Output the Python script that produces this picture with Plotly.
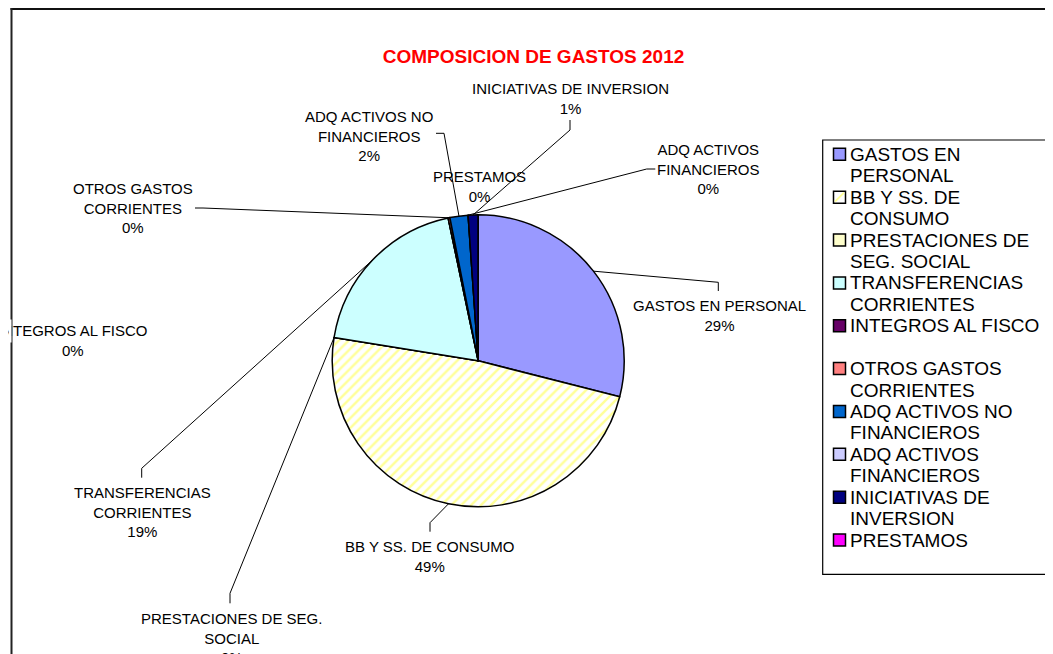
import math
import plotly.graph_objects as go

# ---------------- data ----------------
categories = [
    "GASTOS EN PERSONAL", "BB Y SS. DE CONSUMO", "PRESTACIONES DE SEG. SOCIAL",
    "TRANSFERENCIAS CORRIENTES", "INTEGROS AL FISCO", "OTROS GASTOS CORRIENTES",
    "ADQ ACTIVOS NO FINANCIEROS", "ADQ ACTIVOS FINANCIEROS",
    "INICIATIVAS DE INVERSION", "PRESTAMOS",
]
values = [28.9, 48.5, 0.0, 19.1, 0.0, 0.2, 2.0, 0.0, 1.1, 0.0]
slice_labels = [
    "GASTOS EN PERSONAL", "BB Y SS. DE CONSUMO", "PRESTACIONES DE SEG.<br>SOCIAL",
    "TRANSFERENCIAS<br>CORRIENTES", "INTEGROS AL FISCO", "OTROS GASTOS<br>CORRIENTES",
    "ADQ ACTIVOS NO<br>FINANCIEROS", "ADQ ACTIVOS<br>FINANCIEROS",
    "INICIATIVAS DE INVERSION", "PRESTAMOS",
]
legend_labels = [
    "GASTOS EN<br>PERSONAL", "BB Y SS. DE<br>CONSUMO", "PRESTACIONES DE<br>SEG. SOCIAL",
    "TRANSFERENCIAS<br>CORRIENTES", "INTEGROS AL FISCO", "OTROS GASTOS<br>CORRIENTES",
    "ADQ ACTIVOS NO<br>FINANCIEROS", "ADQ ACTIVOS<br>FINANCIEROS",
    "INICIATIVAS DE<br>INVERSION", "PRESTAMOS",
]
colors = ["#9999FF", "#FFFF99", "#FFFFCC", "#CCFFFF", "#660066",
          "#FF8080", "#0066CC", "#CCCCFF", "#000080", "#FF00FF"]
patterns = ["", "/", "", "", "", "", "", "", "", ""]
title_text = "COMPOSICION DE GASTOS 2012"

# ---------------- layout (page pixels; page has an 8px body margin) ----------------
W, H = 1053, 654
OFF = 8.0
CX, CY, R = 478.2, 360.8, 146.0
FONT = "Liberation Sans, Arial, sans-serif"

label_pos = [(719.5, 315), (429.5, 556), (231.7, 637.7), (142.5, 511.7), (72.6, 341),
             (132.5, 207.7), (368.5, 135.5), (708, 169), (570.5, 98.3), (479, 186.7)]
leader_pts = [((718.3, 282.3), (718.3, 291)), ((430, 522.7), (430, 531.7)),
              ((230, 593.3), (230, 603.3)), ((141.7, 468.3), (141.7, 477.7)), None,
              ((203, 208), (195, 208)), ((444, 133.3), (436, 133.3)),
              ((646.7, 169), (655.3, 169)), ((570, 130), (570, 120)), None]


def px(x):
    return (x - OFF) / W


def py(y):
    return 1 - (y - OFF) / H


fig = go.Figure()
fig.add_trace(go.Pie(
    values=values, labels=categories, sort=False, direction="clockwise", rotation=0,
    textinfo="none", hoverinfo="label+percent", showlegend=False,
    marker=dict(colors=colors, line=dict(color="black", width=1.5),
                pattern=dict(shape=patterns, fgcolor=colors, bgcolor="white",
                             size=7, solidity=0.35)),
    domain=dict(x=[px(CX - R), px(CX + R)], y=[py(CY + R), py(CY - R)]),
))

total = sum(values)
shapes = []
annotations = []

# chart area border (top and left visible)
shapes.append(dict(type="line", xref="paper", yref="paper", x0=px(10.5), x1=px(1070),
                   y0=py(9), y1=py(9), line=dict(color="#111", width=2)))
shapes.append(dict(type="line", xref="paper", yref="paper", x0=px(11.5), x1=px(11.5),
                   y0=py(8), y1=py(670), line=dict(color="#222", width=2)))

# data labels + leader lines
cum = 0.0
for i, v in enumerate(values):
    mid = (cum + v / 2) / total
    cum += v
    theta = 2 * math.pi * mid
    ax = CX + R * math.sin(theta)
    ay = CY - R * math.cos(theta)
    pct = round(v / total * 100)
    lx, ly = label_pos[i]
    annotations.append(dict(
        x=px(lx), y=py(ly), xref="paper", yref="paper", xanchor="center", yanchor="middle",
        text=f"{slice_labels[i]}<br>{pct}%", showarrow=False, align="center",
        font=dict(family=FONT, size=15, color="black")))
    if leader_pts[i] is not None:
        (kx, ky), (ex, ey) = leader_pts[i]
        path = f"M{px(ax)},{py(ay)} L{px(kx)},{py(ky)} L{px(ex)},{py(ey)}"
        shapes.append(dict(type="path", xref="paper", yref="paper", path=path,
                           line=dict(color="black", width=1)))

# clip the INTEGROS label at the chart area edge (white mask left of the border)
annotations.append(dict(x=0, y=py(331), xref="paper", yref="paper", xanchor="left",
                        yanchor="middle", text=" ", showarrow=False, width=2.4, height=22,
                        bgcolor="white", borderpad=0))

# legend box
shapes.append(dict(type="rect", xref="paper", yref="paper", x0=px(822.7), x1=px(1048.7),
                   y0=py(140), y1=py(574.3), line=dict(color="black", width=1.2),
                   fillcolor="white", layer="below"))
LINE0, STEP = 154.3, 21.43
for k, lab in enumerate(legend_labels):
    slot = 2 * k
    yc = LINE0 + STEP * slot
    fill = "white" if patterns[k] else colors[k]
    shapes.append(dict(type="rect", xref="paper", yref="paper", x0=px(833.5), x1=px(845.5),
                       y0=py(yc + 6), y1=py(yc - 6), fillcolor=fill,
                       line=dict(color="black", width=1.5)))
    if patterns[k]:
        shapes.append(dict(type="line", xref="paper", yref="paper", x0=px(835), x1=px(844),
                           y0=py(yc + 4.5), y1=py(yc - 4.5),
                           line=dict(color=colors[k], width=2)))
    for j, line in enumerate(lab.split("<br>")):
        annotations.append(dict(
            x=px(848), y=py(LINE0 + STEP * (slot + j)), xref="paper", yref="paper",
            xanchor="left", yanchor="middle", text=line, showarrow=False,
            font=dict(family=FONT, size=19, color="black")))

fig.update_layout(
    width=W, height=H, margin=dict(l=0, r=0, t=0, b=0),
    paper_bgcolor="white", plot_bgcolor="white",
    title=dict(text=title_text, x=px(533.5), y=py(56.7), xanchor="center", yanchor="middle",
               font=dict(family=FONT, size=19, color="#FF0000", weight="bold")),
    shapes=shapes, annotations=annotations, showlegend=False,
)

fig.write_html("out.html")
